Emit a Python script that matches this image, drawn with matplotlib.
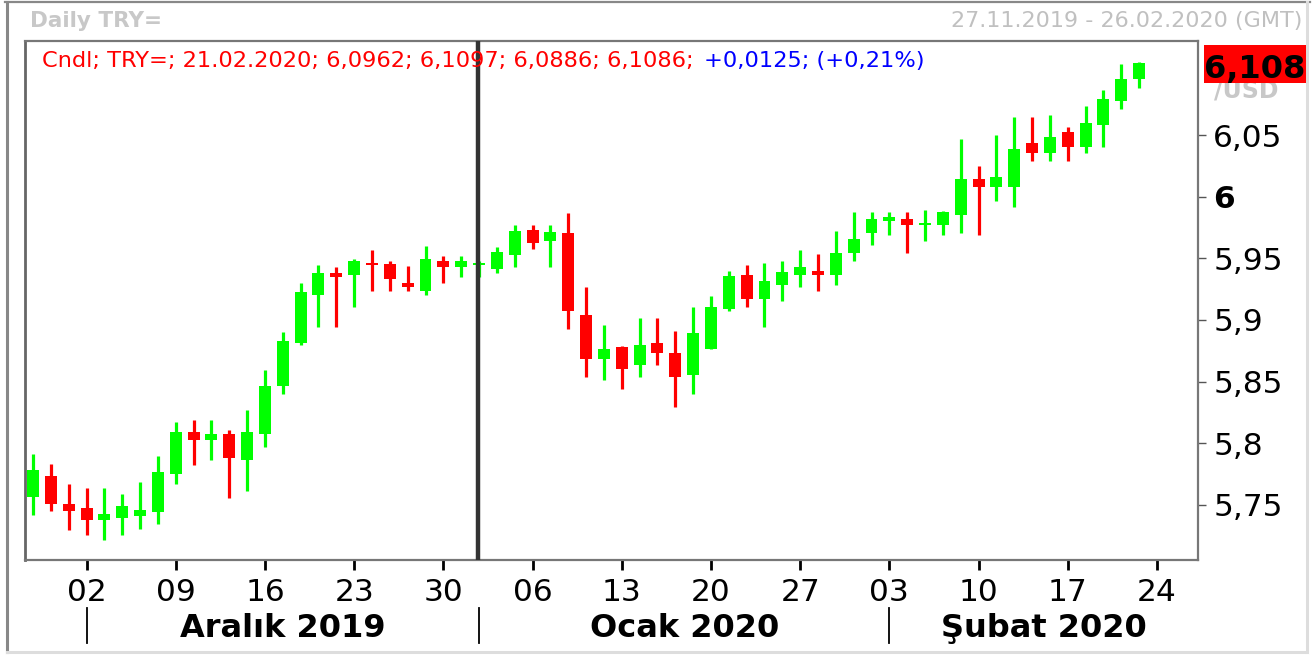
import matplotlib
matplotlib.use("Agg")
import matplotlib.pyplot as plt
import matplotlib.transforms as mtransforms
from matplotlib.patches import Rectangle
from matplotlib.lines import Line2D
import numpy as np
import pandas as pd

# ---------------- data ----------------
dates = pd.bdate_range("2019-11-27", "2020-02-21")   # trading days shown
range_end = "2020-02-26"

opens = [5.7559, 5.7732, 5.7504, 5.7472, 5.7376, 5.7393, 5.7409, 5.7441, 5.7750, 5.8089,
         5.8027, 5.8073, 5.7864, 5.8076, 5.8463, 5.8815, 5.9206, 5.9382, 5.9368, 5.9463,
         5.9455, 5.9301, 5.9238, 5.9480, 5.9433, 5.9449, 5.9417, 5.9531, 5.9732, 5.9645,
         5.9707, 5.9041, 5.8685, 5.8780, 5.8637, 5.8813, 5.8732, 5.8555, 5.8767, 5.9092,
         5.9366, 5.9173, 5.9287, 5.9368, 5.9398, 5.9368, 5.9547, 5.9710, 5.9807, 5.9821,
         5.9775, 5.9775, 5.9856, 6.0146, 6.0084, 6.0084, 6.0439, 6.0360, 6.0528, 6.0409,
         6.0588, 6.0783, 6.0962]
highs = [5.7911, 5.7829, 5.7667, 5.7634, 5.7634, 5.7585, 5.7683, 5.7894, 5.8171, 5.8187,
         5.8187, 5.8106, 5.8268, 5.8593, 5.8902, 5.9301, 5.9447, 5.9431, 5.9496, 5.9569,
         5.9480, 5.9439, 5.9602, 5.9520, 5.9520, 5.9480, 5.9593, 5.9772, 5.9772, 5.9772,
         5.9870, 5.9268, 5.8959, 5.8785, 5.9016, 5.9016, 5.8911, 5.9106, 5.9195, 5.9398,
         5.9447, 5.9463, 5.9480, 5.9569, 5.9537, 5.9724, 5.9878, 5.9878, 5.9878, 5.9878,
         5.9894, 5.9886, 6.0472, 6.0252, 6.0504, 6.0650, 6.0650, 6.0667, 6.0569, 6.0740,
         6.0870, 6.1081, 6.1097]
lows = [5.7415, 5.7447, 5.7293, 5.7254, 5.7214, 5.7254, 5.7303, 5.7344, 5.7669, 5.7824,
        5.7864, 5.7555, 5.7612, 5.7970, 5.8401, 5.8799, 5.8946, 5.8946, 5.9108, 5.9238,
        5.9238, 5.9238, 5.9206, 5.9303, 5.9352, 5.9352, 5.9385, 5.9433, 5.9580, 5.9433,
        5.8929, 5.8539, 5.8515, 5.8441, 5.8539, 5.8637, 5.8295, 5.8401, 5.8765, 5.9076,
        5.9108, 5.8946, 5.9157, 5.9271, 5.9238, 5.9287, 5.9482, 5.9612, 5.9693, 5.9547,
        5.9645, 5.9693, 5.9710, 5.9693, 5.9970, 5.9921, 6.0295, 6.0295, 6.0295, 6.0360,
        6.0409, 6.0718, 6.0886]
closes = [5.7780, 5.7504, 5.7450, 5.7376, 5.7423, 5.7488, 5.7455, 5.7764, 5.8089, 5.8027,
          5.8073, 5.7880, 5.8089, 5.8463, 5.8832, 5.9228, 5.9382, 5.9352, 5.9480, 5.9447,
          5.9336, 5.9271, 5.9496, 5.9433, 5.9480, 5.9463, 5.9553, 5.9724, 5.9628, 5.9715,
          5.9076, 5.8685, 5.8764, 5.8604, 5.8797, 5.8734, 5.8539, 5.8894, 5.9106, 5.9358,
          5.9173, 5.9317, 5.9390, 5.9431, 5.9368, 5.9545, 5.9659, 5.9821, 5.9837, 5.9775,
          5.9789, 5.9878, 6.0146, 6.0084, 6.0163, 6.0390, 6.0360, 6.0488, 6.0409, 6.0602,
          6.0797, 6.0961, 6.1086]

ytick_values = [5.75, 5.80, 5.85, 5.90, 5.95, 6.00, 6.05]
ytick_labels = ["5,75", "5,8", "5,85", "5,9", "5,95", "6", "6,05"]
month_labels = ["Aralık 2019", "Ocak 2020", "Şubat 2020"]
title_left = "Daily TRY="
title_right = "27.11.2019 - 26.02.2020 (GMT)"
legend_red = "Cndl; TRY=; 21.02.2020; 6,0962; 6,1097; 6,0886; 6,1086;"
legend_blue = "+0,0125; (+0,21%)"
last_price_label = "6,108"
unit_label = "/USD"

# ---------------- figure ----------------
W, H = 1314, 657
fig = plt.figure(figsize=(W / 100, H / 100), dpi=100)
fig.patch.set_facecolor("white")


def fy(y):
    return 1 - y / H


def fx(x):
    return x / W


L_, R_, T_, B_ = 25, 1198, 41, 560
ax = fig.add_axes([fx(L_), fy(B_), (R_ - L_) / W, (B_ - T_) / H])

O = np.array(opens)
Hh = np.array(highs)
Lw = np.array(lows)
C = np.array(closes)
n = len(O)
x = np.arange(n)
up = C >= O
cols = np.where(up, "#00ff00", "#ff0000")

ax.vlines(x, Lw, Hh, colors=cols, linewidth=2.3, zorder=2)
body_bottom = np.minimum(O, C)
body_h = np.maximum(np.abs(C - O), 0.0015)
ax.bar(x, body_h, bottom=body_bottom, width=0.67, color=cols, linewidth=0, zorder=3)

# year separator
year_idx = int(np.where(dates.year == 2020)[0][0])
ax.axvline(year_idx - 0.08, color="#333333", linewidth=3.2, zorder=4)

ax.set_xlim(-0.45, 65.3)
ax.set_ylim(5.7049, 6.1268)

for s in ax.spines.values():
    s.set_color("#777777")
    s.set_linewidth(1.6)
ax.spines["left"].set_color("#666666")
ax.spines["left"].set_linewidth(2.0)

# y axis on the right
ax.yaxis.tick_right()
ax.set_yticks(ytick_values)
ax.set_yticklabels(ytick_labels)
ax.tick_params(axis="y", length=6, width=1, color="#555555", labelsize=22.5, pad=5,
               labelcolor="black")
for lbl in ax.get_yticklabels():
    if lbl.get_text() == "6":
        lbl.set_fontweight("bold")

# x ticks on Mondays
full_range = pd.bdate_range(dates[0], range_end)
mondays = pd.date_range("2019-12-02", "2020-02-24", freq="W-MON")
xt = full_range.get_indexer(mondays)
ax.set_xticks(xt)
ax.set_xticklabels([d.strftime("%d") for d in mondays])
ax.tick_params(axis="x", length=7, width=2, color="black", labelsize=22.5, pad=6)

# month separators and labels
trans = mtransforms.blended_transform_factory(ax.transData, ax.transAxes)
month_keys = dates.to_period("M")
starts = [i for i in range(1, n) if month_keys[i] != month_keys[i - 1]]
bounds = starts + [65.3]
ya0 = (B_ - 608) / (B_ - T_)
ya1 = (B_ - 643) / (B_ - T_)
yb = (B_ - 637) / (B_ - T_)
for k, s in enumerate(starts):
    ax.add_line(Line2D([s, s], [ya0, ya1], transform=trans, clip_on=False,
                       color="black", linewidth=1.3))
    ax.text((bounds[k] + bounds[k + 1]) / 2, yb, month_labels[k], transform=trans,
            ha="center", va="baseline", fontsize=23, fontweight="bold", color="black")

# header texts
fig.text(fx(30), fy(27), title_left, fontsize=15.5, fontweight="bold", color="#c8c8c8",
         ha="left", va="baseline")
fig.text(fx(1302), fy(27), title_right, fontsize=16, color="#c0c0c0",
         ha="right", va="baseline")

# legend line
t_red = fig.text(fx(42), fy(67), legend_red, fontsize=16.2, color="#ff0000",
                 ha="left", va="baseline")
renderer = fig.canvas.get_renderer()
ext = t_red.get_window_extent(renderer=renderer)
fig.text((ext.x1 + 10) / W, fy(67), legend_blue, fontsize=16.2, color="#0000ff",
         ha="left", va="baseline")

# last price tag (the unit label sits partly behind the red tag, as in the source)
fig.text(fx(1246), fy(97), unit_label, fontsize=17, fontweight="bold", color="#c8c8c8",
         ha="center", va="baseline", zorder=1)
fig.patches.append(Rectangle((fx(1204), fy(83)), (1306 - 1204) / W, 38 / H,
                             transform=fig.transFigure, facecolor="#ff0000",
                             edgecolor="none", zorder=5))
fig.text(fx(1255), fy(78), last_price_label, fontsize=23, fontweight="bold",
         color="black", ha="center", va="baseline", zorder=6)

# outer border
fig.lines.append(Line2D([fx(5), fx(1310)], [fy(2), fy(2)], transform=fig.transFigure,
                        color="#888888", linewidth=1.6))
fig.lines.append(Line2D([fx(6.5), fx(6.5)], [fy(2), fy(652)], transform=fig.transFigure,
                        color="#888888", linewidth=2.2))
fig.lines.append(Line2D([fx(1307), fx(1307)], [fy(2), fy(652)], transform=fig.transFigure,
                        color="#dddddd", linewidth=2.2))
fig.lines.append(Line2D([fx(6.5), fx(1307)], [fy(652), fy(652)], transform=fig.transFigure,
                        color="#dddddd", linewidth=2.2))

fig.savefig("out.png", dpi=100, facecolor="white")
